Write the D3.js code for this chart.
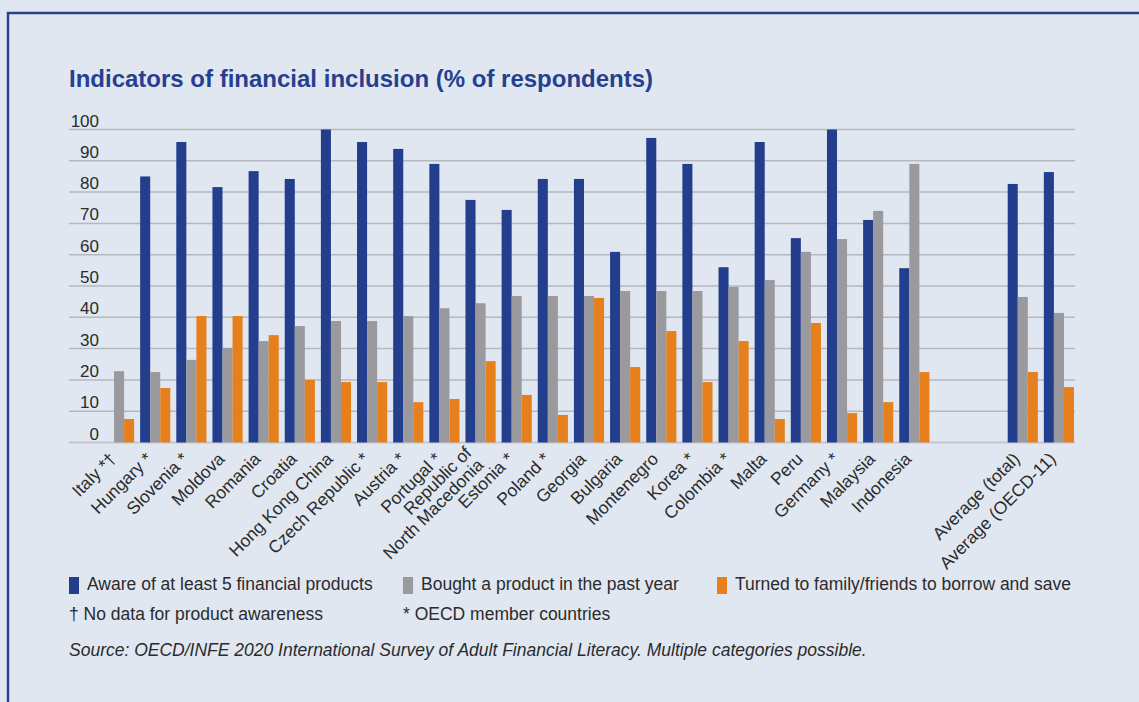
<!DOCTYPE html>
<html>
<head>
<meta charset="utf-8">
<script src="https://cdn.jsdelivr.net/npm/d3@7"></script>
<style>
  html, body { margin: 0; padding: 0; background: #e0e7f1; }
  svg { display: block; }
  text { font-family: "Liberation Sans", Arial, sans-serif; }
</style>
</head>
<body>
<svg id="chart" width="1139" height="702"></svg>
<script>
// ---- data ----
const categories = [
  "Italy *†", "Hungary *", "Slovenia *", "Moldova", "Romania", "Croatia",
  "Hong Kong China", "Czech Republic *", "Austria *", "Portugal *",
  "Republic of\nNorth Macedonia", "Estonia *", "Poland *", "Georgia", "Bulgaria",
  "Montenegro", "Korea *", "Colombia *", "Malta", "Peru", "Germany *",
  "Malaysia", "Indonesia", "Average (total)", "Average (OECD-11)"
];
const aware  = [null, 85, 96, 81.6, 86.7, 84.2, 100, 96, 93.8, 89, 77.5, 74.3, 84.2, 84.2, 60.9, 97.3, 89, 56, 96, 65.3, 100, 71.1, 55.7, 82.6, 86.4];
const bought = [22.8, 22.5, 26.4, 30.2, 32.4, 37.2, 38.8, 38.8, 40.4, 42.9, 44.5, 46.8, 46.8, 46.8, 48.4, 48.4, 48.4, 49.7, 51.9, 60.9, 65, 74, 89, 46.5, 41.4];
const turned = [7.5, 17.4, 40.4, 40.4, 34.3, 20, 19.3, 19.3, 12.9, 13.9, 26, 15.2, 8.8, 46.2, 24.1, 35.6, 19.3, 32.4, 7.5, 38.2, 9.4, 12.9, 22.5, 22.5, 17.7];
const seriesNames = ["Aware of at least 5 financial products", "Bought a product in the past year", "Turned to family/friends to borrow and save"];
const seriesColors = ["#233e8c", "#9a999e", "#e5801c"];
const yTicks = [0, 10, 20, 30, 40, 50, 60, 70, 80, 90, 100];
const title = "Indicators of financial inclusion (% of respondents)";
const notes = ["† No data for product awareness", "* OECD member countries"];
const source = "Source: OECD/INFE 2020 International Survey of Adult Financial Literacy. Multiple categories possible.";

// ---- layout ----
const svg = d3.select("#chart");
const W = 1139, H = 702;
const textColor = "#2b2b2b";

svg.append("rect").attr("width", W).attr("height", H).attr("fill", "#e0e7f1");
// frame
svg.append("line").attr("x1", 7).attr("x2", W).attr("y1", 13).attr("y2", 13)
  .attr("stroke", "#2a418f").attr("stroke-width", 2.5);
svg.append("line").attr("x1", 8).attr("x2", 8).attr("y1", 12).attr("y2", H)
  .attr("stroke", "#2a418f").attr("stroke-width", 2.5);

svg.append("text").attr("x", 69).attr("y", 87)
  .attr("font-size", 24).attr("font-weight", "bold").attr("fill", "#263f8f")
  .text(title);

// slots: countries, two empty gaps, then averages
const slots = [...categories.slice(0, 23), "__gap1", "__gap2", ...categories.slice(23)];
const x0 = d3.scaleBand().domain(slots).range([101, 1077])
  .paddingInner(0.166).paddingOuter(0.083);
const x1 = d3.scaleBand().domain(d3.range(3)).range([0, x0.bandwidth()]);
const y = d3.scaleLinear().domain([0, 100]).range([442.5, 129.5]);

// gridlines + labels
const grid = svg.append("g");
grid.selectAll("line").data(yTicks).join("line")
  .attr("x1", 69).attr("x2", 1075)
  .attr("y1", d => y(d)).attr("y2", d => y(d))
  .attr("stroke", d => d === 0 ? "#c6c7ce" : "#b6b7be")
  .attr("stroke-width", d => d === 0 ? 2 : 1.5);
grid.selectAll("text").data(yTicks).join("text")
  .attr("x", 99).attr("y", d => y(d) - 3)
  .attr("text-anchor", "end").attr("font-size", 17).attr("fill", textColor)
  .text(d => d);

// bars
const seriesData = [aware, bought, turned];
const groups = svg.append("g").selectAll("g").data(categories).join("g")
  .attr("transform", d => `translate(${x0(d)},0)`);
groups.selectAll("rect")
  .data((d, i) => seriesData.map((s, k) => ({ k, v: s[i] })).filter(e => e.v != null))
  .join("rect")
  .attr("x", e => x1(e.k))
  .attr("width", x1.bandwidth())
  .attr("y", e => y(e.v))
  .attr("height", e => y(0) - y(e.v))
  .attr("fill", e => seriesColors[e.k]);

// x labels
const lh = 17;
const xl = svg.append("g");
categories.forEach(c => {
  const cx = x0(c) + x0.bandwidth() / 2 - 2;
  const cy = 460;
  const lines = c.split("\n");
  const t = xl.append("text")
    .attr("transform", `translate(${cx},${cy}) rotate(-45)`)
    .attr("text-anchor", "end").attr("font-size", 17.5).attr("fill", textColor);
  lines.forEach((ln, i) => {
    t.append("tspan").attr("x", 0)
      .attr("y", (i - (lines.length - 1) / 2) * lh)
      .text(ln);
  });
});

// legend
const legX = [69, 403, 717];
const leg = svg.append("g");
seriesNames.forEach((n, i) => {
  leg.append("rect").attr("x", legX[i]).attr("y", 577).attr("width", 10).attr("height", 17)
    .attr("fill", seriesColors[i]);
  leg.append("text").attr("x", legX[i] + 18).attr("y", 590)
    .attr("font-size", 17.5).attr("fill", textColor).text(n);
});
notes.forEach((n, i) => {
  leg.append("text").attr("x", legX[i]).attr("y", 620)
    .attr("font-size", 17.5).attr("fill", textColor).text(n);
});
svg.append("text").attr("x", 69).attr("y", 656)
  .attr("font-size", 17.5).attr("font-style", "italic").attr("fill", textColor)
  .text(source);
</script>
</body>
</html>
